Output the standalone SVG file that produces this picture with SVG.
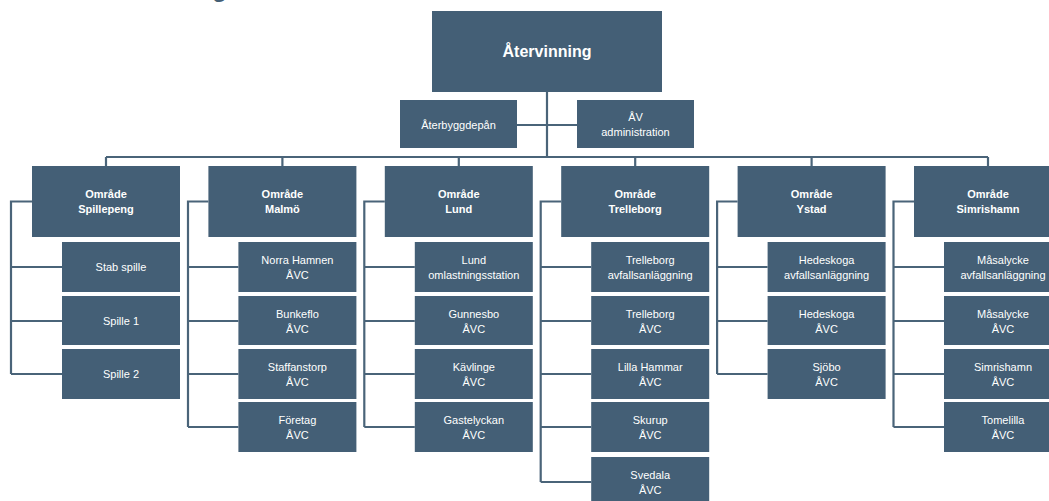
<svg xmlns="http://www.w3.org/2000/svg" width="1049" height="501" viewBox="0 0 1049 501">
<style>
.n{fill:#445f76}
.c{fill:none;stroke:#4a6479;stroke-width:2.2}
.t{font-family:"Liberation Sans",Arial,sans-serif;font-size:11px;fill:#ffffff;text-anchor:middle}
.b{font-weight:bold}
.r{font-family:"Liberation Sans",Arial,sans-serif;font-size:16px;font-weight:bold;fill:#ffffff;text-anchor:middle}
</style>
<rect width="1049" height="501" fill="#ffffff"/>
<text x="227" y="-3" font-family="Liberation Sans,Arial,sans-serif" font-size="24" font-weight="bold" fill="#445f76" text-anchor="end">ng</text>
<g id="connectors" class="c">
<path d="M547,92V157M517,125H577M106,157H988"/>
<path d="M106,157V166M282.4,157V166M458.8,157V166M635.2,157V166M811.6,157V166M988,157V166"/>
<path d="M32,201.5H11V374M11,267H62M11,321H62M11,374H62"/>
<path d="M208.4,201.5H188V427M188,267H238.4M188,321H238.4M188,374H238.4M188,427H238.4"/>
<path d="M384.8,201.5H364.3V427M364.3,267H414.8M364.3,321H414.8M364.3,374H414.8M364.3,427H414.8"/>
<path d="M561.2,201.5H540.7V482M540.7,267H591.2M540.7,321H591.2M540.7,374H591.2M540.7,427H591.2M540.7,482H591.2"/>
<path d="M737.6,201.5H717.1V374M717.1,267H767.6M717.1,321H767.6M717.1,374H767.6"/>
<path d="M914,201.5H893.5V427M893.5,267H944M893.5,321H944M893.5,374H944M893.5,427H944"/>
</g>
<g id="root"><rect class="n" x="432" y="11" width="230" height="81"/><text class="r" x="547" y="57">Återvinning</text></g>
<g id="aterbyggdepan"><rect class="n" x="400" y="100" width="117" height="48"/><text class="t" x="458.5" y="128.5">Återbyggdepån</text></g>
<g id="av-admin"><rect class="n" x="577" y="100" width="117" height="48"/><text class="t" x="635.5" y="121">ÅV</text><text class="t" x="635.5" y="136">administration</text></g>

<g id="area-spillepeng"><rect class="n" x="32" y="166" width="148" height="71"/><text class="t b" x="106" y="198">Område</text><text class="t b" x="106" y="213">Spillepeng</text></g>
<g id="stab-spille"><rect class="n" x="62" y="242" width="118" height="50"/><text class="t" x="121" y="271">Stab spille</text></g>
<g id="spille-1"><rect class="n" x="62" y="296" width="118" height="49"/><text class="t" x="121" y="324.5">Spille 1</text></g>
<g id="spille-2"><rect class="n" x="62" y="349" width="118" height="50"/><text class="t" x="121" y="378">Spille 2</text></g>

<g id="area-malmo"><rect class="n" x="208.4" y="166" width="148" height="71"/><text class="t b" x="282.4" y="198">Område</text><text class="t b" x="282.4" y="213">Malmö</text></g>
<g id="norra-hamnen"><rect class="n" x="238.4" y="242" width="118" height="50"/><text class="t" x="297.4" y="264">Norra Hamnen</text><text class="t" x="297.4" y="279">ÅVC</text></g>
<g id="bunkeflo"><rect class="n" x="238.4" y="296" width="118" height="49"/><text class="t" x="297.4" y="317.5">Bunkeflo</text><text class="t" x="297.4" y="332.5">ÅVC</text></g>
<g id="staffanstorp"><rect class="n" x="238.4" y="349" width="118" height="50"/><text class="t" x="297.4" y="371">Staffanstorp</text><text class="t" x="297.4" y="386">ÅVC</text></g>
<g id="foretag"><rect class="n" x="238.4" y="402" width="118" height="50"/><text class="t" x="297.4" y="424">Företag</text><text class="t" x="297.4" y="439">ÅVC</text></g>

<g id="area-lund"><rect class="n" x="384.8" y="166" width="148" height="71"/><text class="t b" x="458.8" y="198">Område</text><text class="t b" x="458.8" y="213">Lund</text></g>
<g id="lund-omlastning"><rect class="n" x="414.8" y="242" width="118" height="50"/><text class="t" x="473.8" y="264">Lund</text><text class="t" x="473.8" y="279">omlastningsstation</text></g>
<g id="gunnesbo"><rect class="n" x="414.8" y="296" width="118" height="49"/><text class="t" x="473.8" y="317.5">Gunnesbo</text><text class="t" x="473.8" y="332.5">ÅVC</text></g>
<g id="kavlinge"><rect class="n" x="414.8" y="349" width="118" height="50"/><text class="t" x="473.8" y="371">Kävlinge</text><text class="t" x="473.8" y="386">ÅVC</text></g>
<g id="gastelyckan"><rect class="n" x="414.8" y="402" width="118" height="50"/><text class="t" x="473.8" y="424">Gastelyckan</text><text class="t" x="473.8" y="439">ÅVC</text></g>

<g id="area-trelleborg"><rect class="n" x="561.2" y="166" width="148" height="71"/><text class="t b" x="635.2" y="198">Område</text><text class="t b" x="635.2" y="213">Trelleborg</text></g>
<g id="trelleborg-avfall"><rect class="n" x="591.2" y="242" width="118" height="50"/><text class="t" x="650.2" y="264">Trelleborg</text><text class="t" x="650.2" y="279">avfallsanläggning</text></g>
<g id="trelleborg-avc"><rect class="n" x="591.2" y="296" width="118" height="49"/><text class="t" x="650.2" y="317.5">Trelleborg</text><text class="t" x="650.2" y="332.5">ÅVC</text></g>
<g id="lilla-hammar"><rect class="n" x="591.2" y="349" width="118" height="50"/><text class="t" x="650.2" y="371">Lilla Hammar</text><text class="t" x="650.2" y="386">ÅVC</text></g>
<g id="skurup"><rect class="n" x="591.2" y="402" width="118" height="50"/><text class="t" x="650.2" y="424">Skurup</text><text class="t" x="650.2" y="439">ÅVC</text></g>
<g id="svedala"><rect class="n" x="591.2" y="457" width="118" height="50"/><text class="t" x="650.2" y="479">Svedala</text><text class="t" x="650.2" y="494">ÅVC</text></g>

<g id="area-ystad"><rect class="n" x="737.6" y="166" width="148" height="71"/><text class="t b" x="811.6" y="198">Område</text><text class="t b" x="811.6" y="213">Ystad</text></g>
<g id="hedeskoga-avfall"><rect class="n" x="767.6" y="242" width="118" height="50"/><text class="t" x="826.6" y="264">Hedeskoga</text><text class="t" x="826.6" y="279">avfallsanläggning</text></g>
<g id="hedeskoga-avc"><rect class="n" x="767.6" y="296" width="118" height="49"/><text class="t" x="826.6" y="317.5">Hedeskoga</text><text class="t" x="826.6" y="332.5">ÅVC</text></g>
<g id="sjobo"><rect class="n" x="767.6" y="349" width="118" height="50"/><text class="t" x="826.6" y="371">Sjöbo</text><text class="t" x="826.6" y="386">ÅVC</text></g>

<g id="area-simrishamn"><rect class="n" x="914" y="166" width="148" height="71"/><text class="t b" x="988" y="198">Område</text><text class="t b" x="988" y="213">Simrishamn</text></g>
<g id="masalycke-avfall"><rect class="n" x="944" y="242" width="118" height="50"/><text class="t" x="1003" y="264">Måsalycke</text><text class="t" x="1003" y="279">avfallsanläggning</text></g>
<g id="masalycke-avc"><rect class="n" x="944" y="296" width="118" height="49"/><text class="t" x="1003" y="317.5">Måsalycke</text><text class="t" x="1003" y="332.5">ÅVC</text></g>
<g id="simrishamn-avc"><rect class="n" x="944" y="349" width="118" height="50"/><text class="t" x="1003" y="371">Simrishamn</text><text class="t" x="1003" y="386">ÅVC</text></g>
<g id="tomelilla"><rect class="n" x="944" y="402" width="118" height="50"/><text class="t" x="1003" y="424">Tomelilla</text><text class="t" x="1003" y="439">ÅVC</text></g>
</svg>
